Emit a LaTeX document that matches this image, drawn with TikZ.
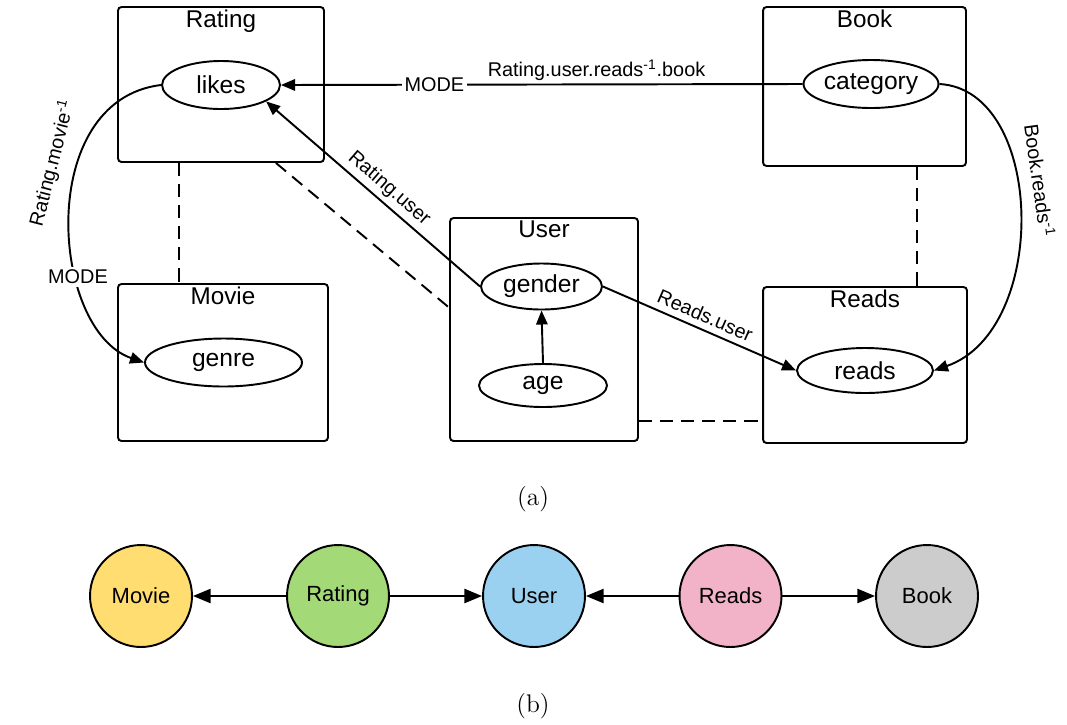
\documentclass[tikz,border=0pt]{standalone}
\usepackage{fontspec}
\newfontfamily\arialfont{Liberation Sans}
\usetikzlibrary{shapes, arrows.meta, positioning}

\definecolor{moviecol}{RGB}{255,221,113}
\definecolor{ratingcol}{RGB}{163,217,119}
\definecolor{usercol}{RGB}{155,209,240}
\definecolor{readscol}{RGB}{242,179,200}
\definecolor{bookcol}{RGB}{204,204,204}

\begin{document}
\begin{tikzpicture}[x=0.02cm, y=-0.02cm,
    tblbox/.style={draw, line width=1.1pt, rounded corners=2pt, inner sep=0pt},
    tbltitle/.style={inner sep=2pt, font=\arialfont\fontsize{13.8}{15}\selectfont},
    attr/.style={draw, ellipse, line width=1.1pt, inner sep=0pt, font=\arialfont\fontsize{14}{15}\selectfont},
    rel/.style={line width=1.1pt, -{Triangle[length=8pt, width=6.5pt]}},
    dashlink/.style={line width=1.1pt, dash pattern=on 7.5pt off 4.5pt},
    elabel/.style={inner sep=1.5pt, font=\arialfont\fontsize{11.3}{13}\selectfont},
    ent/.style={draw, circle, line width=1.1pt, minimum size=2.04cm, inner sep=0pt, font=\arialfont\fontsize{12.5}{14}\selectfont},
    bigrel/.style={line width=1.1pt, -{Triangle[length=10pt, width=8pt]}}]
    \useasboundingbox (0,0) rectangle (1067,724);

    % (a) tables
    \node[tblbox, minimum width=4.12cm, minimum height=3.1cm] (rating) at (221,84.5) {};
    \node[tbltitle, below=0pt of rating.north] (ratingT) {Rating};
    \node[tblbox, minimum width=4.2cm, minimum height=3.14cm] (movie) at (223,362.5) {};
    \node[tbltitle, below=0pt of movie.north] (movieT) {Movie};
    \node[tblbox, minimum width=3.76cm, minimum height=4.46cm] (user) at (544,329.5) {};
    \node[tbltitle, below=0pt of user.north] (userT) {User};
    \node[tblbox, minimum width=4.06cm, minimum height=3.18cm] (book) at (864.5,86.5) {};
    \node[tbltitle, below=0pt of book.north] (bookT) {Book};
    \node[tblbox, minimum width=4.08cm, minimum height=3.12cm] (reads) at (865,365) {};
    \node[tbltitle, below=0pt of reads.north] (readsT) {Reads};

    % attributes
    \node[attr, minimum width=2.36cm, minimum height=0.96cm] (likes) at (221,85) {likes};
    \node[attr, minimum width=3.14cm, minimum height=0.96cm] (genre) at (223.5,362.5) {genre};
    \node[attr, minimum width=2.42cm, minimum height=0.92cm] (gender) at (541.5,286.5) {gender};
    \node[attr, minimum width=2.56cm, minimum height=0.86cm] (age) at (543,385.5) {age};
    \node[attr, minimum width=2.7cm, minimum height=0.96cm] (category) at (871,84) {category};
    \node[attr, minimum width=2.72cm, minimum height=0.9cm] (readsA) at (865,370.5) {reads};

    % joins
    \draw[dashlink] (rating.-118) -- (rating.-118 |- movie.north);
    \draw[dashlink] (rating.-55) -- (user.167);
    \draw[dashlink] (book.-57) -- (book.-57 |- reads.north);
    \draw[dashlink] (user.-44) -- (user.-44 -| reads.west);

    % relations
    \draw[rel] (category.west) -- (likes.east)
        node[elabel, pos=0.706, fill=white] {MODE}
        node[elabel, pos=0.395, above] {Rating.user.reads\textsuperscript{-1}.book};
    \draw[rel] (gender.west) -- (likes.-20)
        node[elabel, pos=0.47, sloped, above=1pt] {Rating.user};
    \draw[rel] (age.north) -- (gender.south);
    \draw[rel] (gender.east) -- (readsA.west)
        node[elabel, pos=0.5, sloped, above=2pt] {Reads.user};
    \draw[rel] (likes.west) .. controls (35,100) and (50,330) .. (genre.west)
        node[elabel, pos=0.37, sloped, above=6pt] {Rating.movie\textsuperscript{-1}}
        node[elabel, pos=0.66, fill=white] {MODE};
    \draw[rel] (category.east) .. controls (1045,90) and (1050,330) .. (readsA.east)
        node[elabel, pos=0.42, sloped, above=6pt] {Book.reads\textsuperscript{-1}};

    \node[font=\fontsize{14.5}{16}\selectfont] (capA) at (533,499) {(a)};

    % (b) schema graph
    \node[ent, fill=moviecol] (cmovie) at (141,596) {Movie};
    \node[ent, fill=ratingcol] (crating) at (338,596) {Rating};
    \node[ent, fill=usercol] (cuser) at (534,596) {User};
    \node[ent, fill=readscol] (creads) at (730.5,596) {Reads};
    \node[ent, fill=bookcol] (cbook) at (927,596) {Book};
    \draw[bigrel] (crating) -- (cmovie);
    \draw[bigrel] (crating) -- (cuser);
    \draw[bigrel] (creads) -- (cuser);
    \draw[bigrel] (creads) -- (cbook);

    \node[font=\fontsize{14.5}{16}\selectfont] (capB) at (533,706) {(b)};
\end{tikzpicture}
\end{document}
